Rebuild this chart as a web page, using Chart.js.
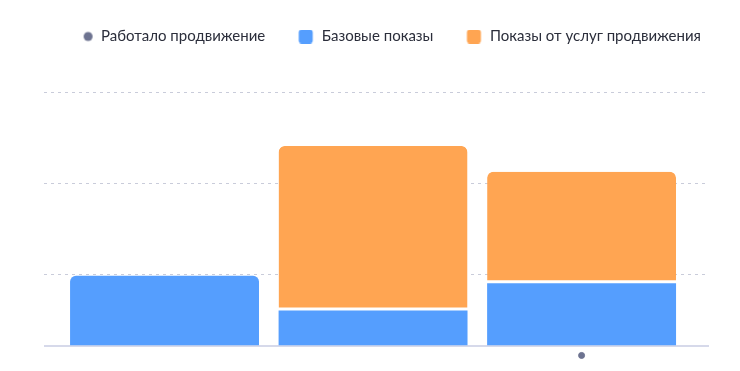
<!DOCTYPE html>
<html>
<head>
<meta charset="utf-8">
<script src="https://cdn.jsdelivr.net/npm/chart.js@4"></script>
<style>
  html, body { margin: 0; padding: 0; background: #fff; }
  #wrap { width: 740px; height: 371px; }
</style>
</head>
<body>
<div id="wrap"><canvas id="promo-chart"></canvas></div>
<script>
// Impressions: base vs. promotion-driven, three periods
const periods = [0, 1, 2];
const baseViews = [774, 394, 694];
const promoViews = [null, 1807, 1223];
const promoWorked = [false, false, true];
const gridValues = [0, 793, 1793, 2793];
const seriesNames = ['Работало продвижение', 'Базовые показы', 'Показы от услуг продвижения'];

const BLUE = '#559efe';
const ORANGE = '#ffa552';
const DOT = '#6d7390';
const DOT_LEVEL = -100; // marker sits a little under the baseline

// legend markers drawn into small canvases so dot and squares can differ in size
function marker(w, size, color, round, cx) {
  const c = document.createElement('canvas');
  c.width = w; c.height = 14;
  const g = c.getContext('2d');
  g.fillStyle = color;
  g.beginPath();
  if (round) g.arc(cx, 7, size / 2, 0, Math.PI * 2);
  else g.roundRect(cx - size / 2, 7 - size / 2, size, size, 3);
  g.fill();
  return c;
}

// give the legend some extra room below it
const legendGap = {
  id: 'legendGap',
  beforeInit(chart) {
    const fit = chart.legend.fit;
    chart.legend.fit = function () {
      fit.bind(chart.legend)();
      this.height += 38;
    };
  }
};

const topRound = { topLeft: 6, topRight: 6, bottomLeft: 0, bottomRight: 0 };

new Chart(document.getElementById('promo-chart'), {
  type: 'bar',
  data: {
    datasets: [
      {
        type: 'scatter',
        label: seriesNames[0],
        data: periods.filter((p, i) => promoWorked[i]).map(p => ({ x: p, y: DOT_LEVEL })),
        backgroundColor: DOT,
        borderColor: DOT,
        pointRadius: 3,
        pointStyle: 'circle',
        order: 0
      },
      {
        label: seriesNames[1],
        data: periods.map((p, i) => ({ x: p, y: baseViews[i] })),
        backgroundColor: BLUE,
        borderWidth: 0,
        borderSkipped: false,
        borderRadius: ctx => promoViews[ctx.dataIndex] ? 0 : topRound,
        stack: 's',
        order: 1
      },
      {
        label: seriesNames[2],
        data: periods.map((p, i) => ({ x: p, y: promoViews[i] })),
        backgroundColor: ORANGE,
        borderColor: '#ffffff',
        borderWidth: { top: 0, left: 0, right: 0, bottom: 3 },
        borderSkipped: false,
        borderRadius: topRound,
        stack: 's',
        order: 1
      }
    ]
  },
  options: {
    responsive: true,
    maintainAspectRatio: false,
    animation: false,
    layout: { padding: { left: 0, right: 10, top: 0, bottom: 11 } },
    datasets: { bar: { barPercentage: 0.906, categoryPercentage: 1 } },
    plugins: {
      tooltip: { enabled: false },
      legend: {
        position: 'top',
        align: 'end',
        labels: {
          usePointStyle: true,
          pointStyleWidth: 20,
          boxHeight: 14,
          padding: 29,
          color: '#2b2e3b',
          font: { family: 'Lato', size: 15 },
          generateLabels(chart) {
            const styles = [
              marker(20, 9, DOT, true, 14.5),
              marker(20, 14, BLUE, false, 11.5),
              marker(20, 14, ORANGE, false, 11.5)
            ];
            return seriesNames.map((name, i) => ({
              text: name,
              pointStyle: styles[i],
              fillStyle: 'transparent',
              strokeStyle: 'transparent',
              lineWidth: 0,
              datasetIndex: i,
              fontColor: '#2b2e3b'
            }));
          }
        }
      }
    },
    scales: {
      x: {
        type: 'linear',
        display: false,
        offset: false,
        min: -0.578,
        max: 2.611,
        ticks: { stepSize: 1, includeBounds: false }
      },
      y: {
        stacked: true,
        min: -150,
        max: 2793,
        afterFit(scale) { scale.width = 44; },
        afterBuildTicks(scale) { scale.ticks = gridValues.map(v => ({ value: v })); },
        ticks: { display: false },
        grid: {
          drawTicks: false,
          color: ctx => ctx.tick && ctx.tick.value === 0 ? '#d6d9ea' : '#c9ccda',
          lineWidth: ctx => ctx.tick && ctx.tick.value === 0 ? 2 : 1
        },
        border: {
          display: false,
          dash: ctx => ctx.tick && ctx.tick.value === 0 ? [] : [3, 4]
        }
      },
      yRight: {
        position: 'right',
        display: true,
        afterFit(scale) { scale.width = 21; },
        ticks: { display: false },
        grid: { display: false, drawTicks: false },
        border: { display: false }
      }
    }
  },
  plugins: [legendGap]
});
</script>
</body>
</html>
